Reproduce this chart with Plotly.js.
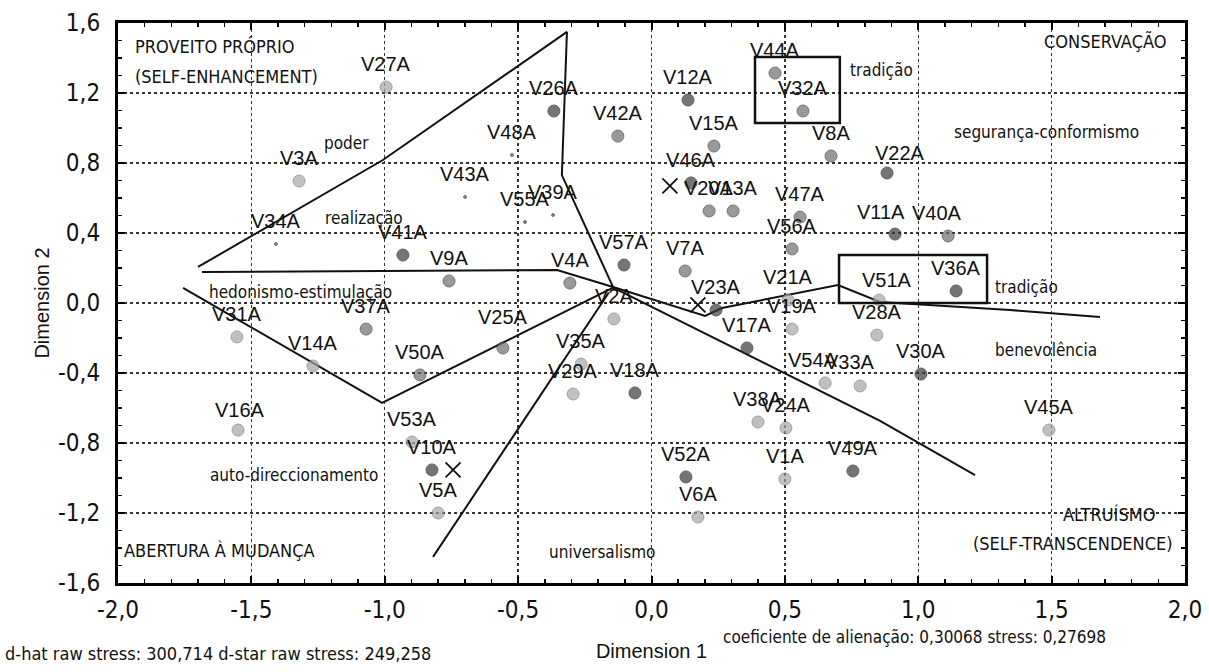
<!DOCTYPE html>
<html>
<head>
<meta charset="utf-8">
<script src="https://cdn.plot.ly/plotly-3.0.1.min.js"></script>
<style>
  html, body { margin: 0; padding: 0; background: #ffffff; }
  #chart { width: 1209px; height: 672px; }
</style>
</head>
<body>
<div id="chart"></div>
<script>
// ---------- data ----------
const varNames = ['V1A','V2A','V3A','V4A','V5A','V6A','V7A','V8A','V9A','V10A',
  'V11A','V12A','V13A','V14A','V15A','V16A','V17A','V18A','V19A','V20A',
  'V21A','V22A','V23A','V24A','V25A','V26A','V27A','V28A','V29A','V30A',
  'V31A','V32A','V33A','V34A','V35A','V36A','V37A','V38A','V39A','V40A',
  'V41A','V42A','V43A','V44A','V45A','V46A','V47A','V48A','V49A','V50A',
  'V51A','V52A','V53A','V54A','V55A','V56A','V57A'];
const dim1 = [0.500,-0.141,-1.321,-0.306,-0.800,0.174,0.126,0.673,-0.759,-0.823,
  0.913,0.137,0.306,-1.269,0.234,-1.550,0.358,-0.062,0.527,0.216,
  0.512,0.883,0.242,0.504,-0.557,-0.366,-0.995,0.845,-0.294,1.010,
  -1.554,0.568,0.782,-1.408,-0.264,1.142,-1.070,0.399,-0.369,1.112,
  -0.932,-0.126,-0.699,0.463,1.490,0.148,0.557,-0.523,0.755,-0.868,
  0.853,0.129,-0.898,0.651,-0.474,0.527,-0.103];
const dim2 = [-1.006,-0.091,0.697,0.114,-1.200,-1.223,0.183,0.840,0.126,-0.954,
  0.394,1.160,0.526,-0.360,0.897,-0.726,-0.257,-0.514,-0.149,0.526,
  0.017,0.743,-0.040,-0.714,-0.257,1.097,1.234,-0.183,-0.520,-0.406,
  -0.194,1.097,-0.474,0.337,-0.349,0.069,-0.149,-0.680,0.503,0.383,
  0.274,0.954,0.606,1.314,-0.726,0.686,0.491,0.846,-0.960,-0.411,
  0.017,-0.994,-0.794,-0.457,0.463,0.309,0.217];
// shading group of each marker in the scan (d = dark, m = mid, l = light, f = faint)
const shade = ['l','l','l','m','l','l','m','m','m','d',
  'd','d','m','l','m','l','d','d','l','m',
  'l','d','d','l','m','d','l','l','l','d',
  'l','m','l','f','l','d','m','l','f','m',
  'd','m','f','m','l','d','m','f','d','m',
  'l','d','l','l','f','m','d'];

// centroid crosses
const crossX = [0.069, 0.174, -0.744];
const crossY = [0.669, -0.011, -0.954];

// partition lines
const lineAx = [-1.700,-1.007,-0.317,-0.336,-0.144];
const lineAy = [0.206,0.817,1.549,0.731,0.091];
const lineBx = [-1.685,-0.354,-0.144,0.201,0.264,0.508,0.699,0.857,1.164,1.344,1.681];
const lineBy = [0.177,0.189,0.091,-0.074,-0.029,0.046,0.103,0.006,-0.023,-0.040,-0.080];
const lineCx = [-0.144,0.857,1.213];
const lineCy = [0.088,-0.674,-0.983];
const lineDx = [-1.756,-1.010,-0.144];
const lineDy = [0.086,-0.571,0.088];
const lineEx = [-0.160,-0.819];
const lineEy = [0.060,-1.451];

// boxes around "tradição" items
const boxX0 = [0.388, 0.703];
const boxX1 = [0.706, 1.258];
const boxY0 = [1.406, 0.274];
const boxY1 = [1.029, 0.000];

// tick labels
const xTickVals = [-2,-1.5,-1,-0.5,0,0.5,1,1.5,2];
const xTickText = ['-2,0','-1,5','-1,0','-0,5','0,0','0,5','1,0','1,5','2,0'];
const yTickVals = [-1.6,-1.2,-0.8,-0.4,0,0.4,0.8,1.2,1.6];
const yTickText = ['-1,6','-1,2','-0,8','-0,4','0,0','0,4','0,8','1,2','1,6'];

// region texts
const regionText = ['PROVEITO PRÓPRIO','(SELF-ENHANCEMENT)','CONSERVAÇÃO','poder','realização',
  'hedonismo-estimulação','auto-direccionamento','ABERTURA À MUDANÇA','universalismo',
  'ALTRUÍSMO','(SELF-TRANSCENDENCE)','tradição','segurança-conformismo','tradição','benevolência'];
const regionX = [-1.944,-1.944,1.936,-1.235,-1.231,-1.667,-1.018,-1.985,-0.392,1.895,1.963,0.737,1.127,1.281,1.281];
const regionY = [1.463,1.297,1.497,0.914,0.486,0.063,-0.983,-1.417,-1.423,-1.211,-1.377,1.331,0.977,0.091,-0.269];
const regionAnchor = ['left','left','right','left','left','left','right','left','left','right','right','left','left','left','left'];

const footLeft = 'd-hat raw stress: 300,714 d-star raw stress: 249,258';
const footRight = 'coeficiente de alienação: 0,30068 stress: 0,27698';

// ---------- styles ----------
const narrow = 'Liberation Sans Narrow, DejaVu Sans Condensed, Arial Narrow, sans-serif';
const shadeStyle = {
  d: {color: '#3c3c3c', line: '#1e1e1e', size: 12},
  m: {color: '#6f6f6f', line: '#3a3a3a', size: 12},
  l: {color: '#a6a6a6', line: '#7a7a7a', size: 12},
  f: {color: '#444444', line: '#444444', size: 3}
};
const labelShift = {V22A:[13,20], V11A:[-14,22], V40A:[-11,23], V54A:[-12,23], V33A:[-10,24],
  V25A:[0,31], V16A:[2,20], V51A:[8,20]};

// ---------- traces ----------
const traces = [];
const lines = [[lineAx,lineAy],[lineBx,lineBy],[lineCx,lineCy],[lineDx,lineDy],[lineEx,lineEy]];
lines.forEach(l => traces.push({
  type: 'scatter', mode: 'lines', x: l[0], y: l[1],
  line: {color: '#111', width: 2}, hoverinfo: 'skip', showlegend: false
}));
traces.push({
  type: 'scatter', mode: 'markers', x: dim1, y: dim2, text: varNames,
  marker: {
    symbol: 'circle',
    size: shade.map(s => shadeStyle[s].size),
    color: shade.map(s => shadeStyle[s].color),
    line: {color: shade.map(s => shadeStyle[s].line), width: 1}
  },
  showlegend: false, hovertemplate: '%{text}: %{x}, %{y}<extra></extra>'
});
traces.push({
  type: 'scatter', mode: 'markers', x: crossX, y: crossY,
  marker: {symbol: 'x-thin-open', size: 15, color: '#111', line: {color: '#111', width: 1.8}},
  showlegend: false, hoverinfo: 'skip'
});

// ---------- annotations ----------
const annotations = [];
varNames.forEach((n, i) => {
  const s = labelShift[n] || [0, 23];
  annotations.push({
    x: dim1[i], y: dim2[i], xref: 'x', yref: 'y', text: n, showarrow: false,
    xshift: s[0], yshift: s[1],
    font: {family: 'Liberation Sans, Arial, sans-serif', size: 20, color: '#111'}
  });
});
regionText.forEach((t, i) => {
  const upper = t === t.toUpperCase();
  annotations.push({
    x: regionX[i], y: regionY[i], xref: 'x', yref: 'y', text: t, showarrow: false,
    xanchor: regionAnchor[i], yanchor: 'middle',
    font: {family: narrow, size: upper ? 18 : 17, color: '#111'}
  });
});
annotations.push({
  x: -0.108, y: -0.125, xref: 'paper', yref: 'paper', xanchor: 'left', yanchor: 'middle',
  text: footLeft, showarrow: false, font: {family: narrow, size: 18, color: '#111'}
});
annotations.push({
  x: 0.565, y: -0.096, xref: 'paper', yref: 'paper', xanchor: 'left', yanchor: 'middle',
  text: footRight, showarrow: false, font: {family: narrow, size: 17, color: '#111'}
});

const shapes = boxX0.map((x0, i) => ({
  type: 'rect', xref: 'x', yref: 'y', x0: x0, x1: boxX1[i], y0: boxY0[i], y1: boxY1[i],
  line: {color: '#111', width: 2.5}, fillcolor: 'rgba(0,0,0,0)'
}));

const axisCommon = {
  showline: true, linecolor: '#000', linewidth: 3, mirror: 'allticks',
  ticks: 'inside', ticklen: 7, tickwidth: 2, tickcolor: '#000',
  showgrid: true, gridcolor: '#333', gridwidth: 1.3, griddash: 'dot',
  zeroline: false, tickmode: 'array',
  tickfont: {family: narrow, size: 24, color: '#111'},
  minor: {ticks: 'inside', ticklen: 4, tickwidth: 1.5, tickcolor: '#000', dtick: 0.1, tick0: 0, showgrid: false}
};

const layout = {
  width: 1209, height: 672,
  margin: {l: 118, r: 24, t: 23, b: 89},
  paper_bgcolor: '#fff', plot_bgcolor: '#fff',
  separators: ',.',
  xaxis: Object.assign({}, axisCommon, {
    range: [-2, 2], tickvals: xTickVals, ticktext: xTickText, ticklabelstandoff: 3,
    title: {text: 'Dimension 1', standoff: 22, font: {family: 'Liberation Sans, Arial, sans-serif', size: 20, color: '#111'}}
  }),
  yaxis: Object.assign({}, axisCommon, {
    range: [-1.6, 1.6], tickvals: yTickVals, ticktext: yTickText, ticklabelstandoff: 10,
    title: {text: 'Dimension 2', standoff: 4, font: {family: 'Liberation Sans, Arial, sans-serif', size: 20, color: '#111'}}
  }),
  annotations: annotations,
  shapes: shapes,
  showlegend: false
};

Plotly.newPlot('chart', traces, layout, {displayModeBar: false, staticPlot: true});
</script>
</body>
</html>
